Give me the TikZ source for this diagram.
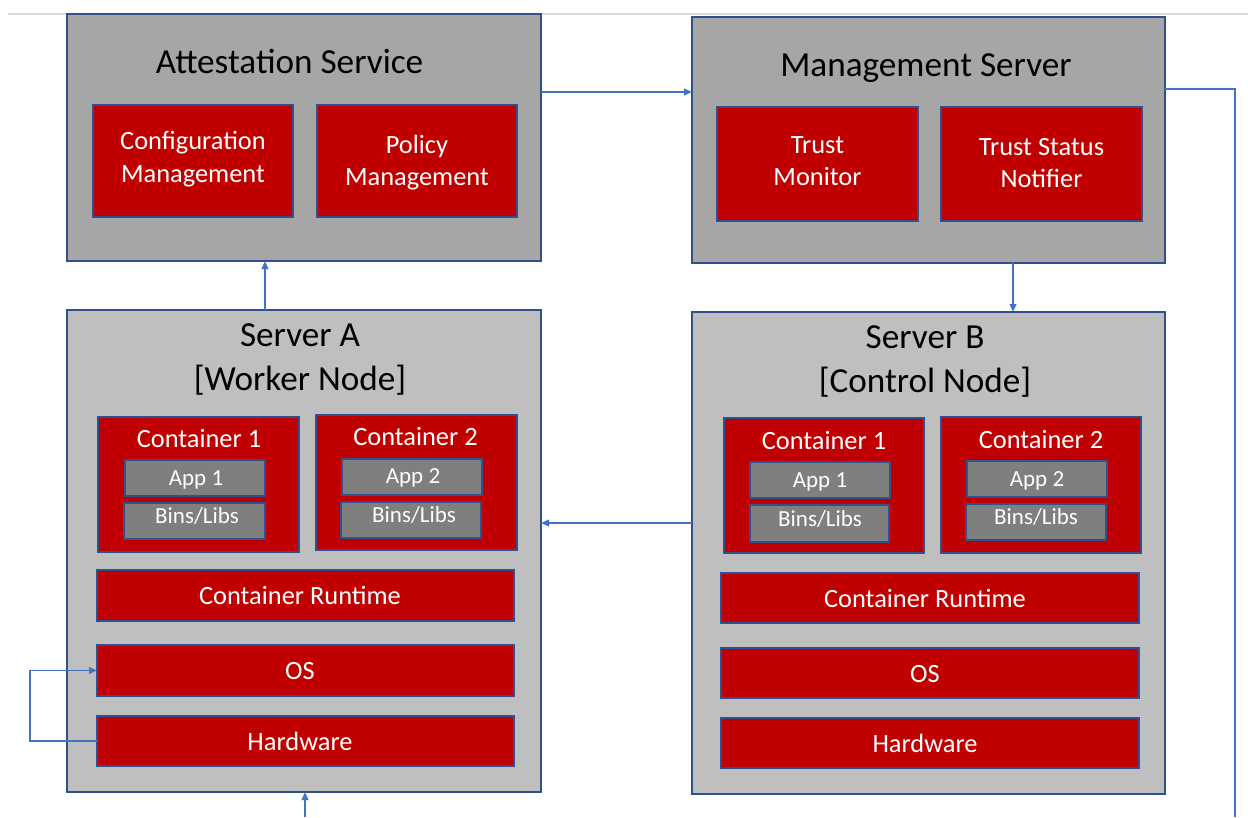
\documentclass[tikz,border=0pt]{standalone}
\usepackage{fontspec}
\setmainfont{Carlito}
\usetikzlibrary{fit,calc,arrows.meta}
\definecolor{gdark}{HTML}{A6A6A6}
\definecolor{gsrv}{HTML}{BFBFBF}
\definecolor{cred}{HTML}{C00000}
\definecolor{gapp}{HTML}{7F7F7F}
\definecolor{bord}{HTML}{2F528F}
\definecolor{arr}{HTML}{4472C4}
\definecolor{topl}{HTML}{D9D9D9}
\begin{document}
\begin{tikzpicture}[x=0.75pt,y=-0.75pt,
  box/.style={draw=bord, line width=1.1pt, inner sep=0pt, outer sep=0pt},
  outerbox/.style={box, fill=gdark},
  srvbox/.style={box, fill=gsrv},
  redbox/.style={box, fill=cred},
  appbox/.style={box, fill=gapp},
  ttl/.style={anchor=base, inner sep=0pt, font=\fontsize{26.4pt}{30pt}\selectfont, text=black},
  lbl/.style={anchor=base, inner sep=0pt, font=\fontsize{19.8pt}{24pt}\selectfont, text=white},
  applbl/.style={anchor=base, inner sep=0pt, font=\fontsize{17.25pt}{20pt}\selectfont, text=white},
  conn/.style={draw=arr, line width=1.3pt, -{Triangle[length=6pt,width=5pt]}},
  plainline/.style={draw=arr, line width=1.3pt}
]
\fill[white] (0,0) rectangle (1248,817);
\path[use as bounding box] (0,0) rectangle (1248,817);
\coordinate (tl1) at (8,14);
\coordinate (tl2) at (1248,14);
\draw[topl, line width=1.2pt] (tl1) -- (tl2);

% Attestation Service
\node[outerbox, fit={(67,14)(541,261)}] (att) {};
\node[ttl] (att-t) at (289.5,74) {Attestation Service};
\node[redbox, fit={(93,105)(293,217)}] (cm) {};
\node[lbl] (cm-t1) at (193,149) {Configuration};
\node[lbl] (cm-t2) at (193,182) {Management};
\node[redbox, fit={(317,105)(517,217)}] (pm) {};
\node[lbl] (pm-t1) at (417,153) {Policy};
\node[lbl] (pm-t2) at (417,185) {Management};

% Management Server
\node[outerbox, fit={(692,17)(1165,263)}] (mgmt) {};
\node[ttl] (mgmt-t) at (926,76) {Management Server};
\node[redbox, fit={(717,107)(918,221)}] (tm) {};
\node[lbl] (tm-t1) at (817.5,153) {Trust};
\node[lbl] (tm-t2) at (817.5,185) {Monitor};
\node[redbox, fit={(941,107)(1142,221)}] (tsn) {};
\node[lbl] (tsn-t1) at (1041.5,155) {Trust Status};
\node[lbl] (tsn-t2) at (1041.5,187) {Notifier};

% Server A
\node[srvbox, fit={(67,310)(541,792)}] (srvA) {};
\node[ttl] (srvA-t1) at (300,346) {Server A};
\node[ttl] (srvA-t2) at (300,390) {[Worker Node]};
\node[redbox, fit={(98,417)(299,552)}] (ac1) {};
\node[lbl] (ac1-t) at (199,447) {Container 1};
\node[appbox, fit={(125,460)(265,496)}] (aapp1) {};
\node[applbl] (aapp1-t) at (196,485) {App 1};
\node[appbox, fit={(124,503)(265,539)}] (abin1) {};
\node[applbl] (abin1-t) at (197,523) {Bins/Libs};
\node[redbox, fit={(316,415)(517,550)}] (ac2) {};
\node[lbl] (ac2-t) at (415.5,445) {Container 2};
\node[appbox, fit={(342,459)(482,495)}] (aapp2) {};
\node[applbl] (aapp2-t) at (413,483) {App 2};
\node[appbox, fit={(341,502)(481,538)}] (abin2) {};
\node[applbl] (abin2-t) at (414,522) {Bins/Libs};
\node[redbox, fit={(97,570)(514,621)}] (acr) {};
\node[lbl] (acr-t) at (300,604) {Container Runtime};
\node[redbox, fit={(97,645)(514,696)}] (aos) {};
\node[lbl] (aos-t) at (300,679) {OS};
\node[redbox, fit={(97,716)(514,766)}] (ahw) {};
\node[lbl] (ahw-t) at (300,750) {Hardware};

% Server B
\node[srvbox, fit={(692,312)(1165,794)}] (srvB) {};
\node[ttl] (srvB-t1) at (925,348) {Server B};
\node[ttl] (srvB-t2) at (925,392) {[Control Node]};
\node[redbox, fit={(724,418)(924,553)}] (bc1) {};
\node[lbl] (bc1-t) at (824,449) {Container 1};
\node[appbox, fit={(750,462)(890,498)}] (bapp1) {};
\node[applbl] (bapp1-t) at (820,487) {App 1};
\node[appbox, fit={(750,505)(889,542)}] (bbin1) {};
\node[applbl] (bbin1-t) at (820,526) {Bins/Libs};
\node[redbox, fit={(941,417)(1141,553)}] (bc2) {};
\node[lbl] (bc2-t) at (1041,448) {Container 2};
\node[appbox, fit={(967,461)(1107,497)}] (bapp2) {};
\node[applbl] (bapp2-t) at (1037,486) {App 2};
\node[appbox, fit={(966,504)(1106,540)}] (bbin2) {};
\node[applbl] (bbin2-t) at (1036,524) {Bins/Libs};
\node[redbox, fit={(721,573)(1139,623)}] (bcr) {};
\node[lbl] (bcr-t) at (925,607) {Container Runtime};
\node[redbox, fit={(721,648)(1139,698)}] (bos) {};
\node[lbl] (bos-t) at (925,682) {OS};
\node[redbox, fit={(721,718)(1139,768)}] (bhw) {};
\node[lbl] (bhw-t) at (925,752) {Hardware};

% Connectors
\coordinate (p1) at ($(att.north east)+(0,78)$);
\draw[conn] (p1) -- (p1 -| mgmt.west);
\coordinate (p2) at ($(mgmt.south west)+(321,0)$);
\draw[conn] (p2) -- (p2 |- srvB.north);
\coordinate (p3) at ($(srvB.north west)+(0,211)$);
\draw[conn] (p3) -- (p3 -| srvA.east);
\coordinate (p4) at ($(srvA.north west)+(198,0)$);
\draw[conn] (p4) -- (p4 |- att.south);
\coordinate (bot) at (305,817);
\draw[conn] (bot) -- (bot |- srvA.south);
\coordinate (p6) at ($(mgmt.north east)+(0,72)$);
\coordinate (rb) at (1235,817);
\draw[plainline] (p6) -| (rb);
\draw[conn] (ahw.west) -- ++(-67,0) |- (aos.west);
\end{tikzpicture}
\end{document}
